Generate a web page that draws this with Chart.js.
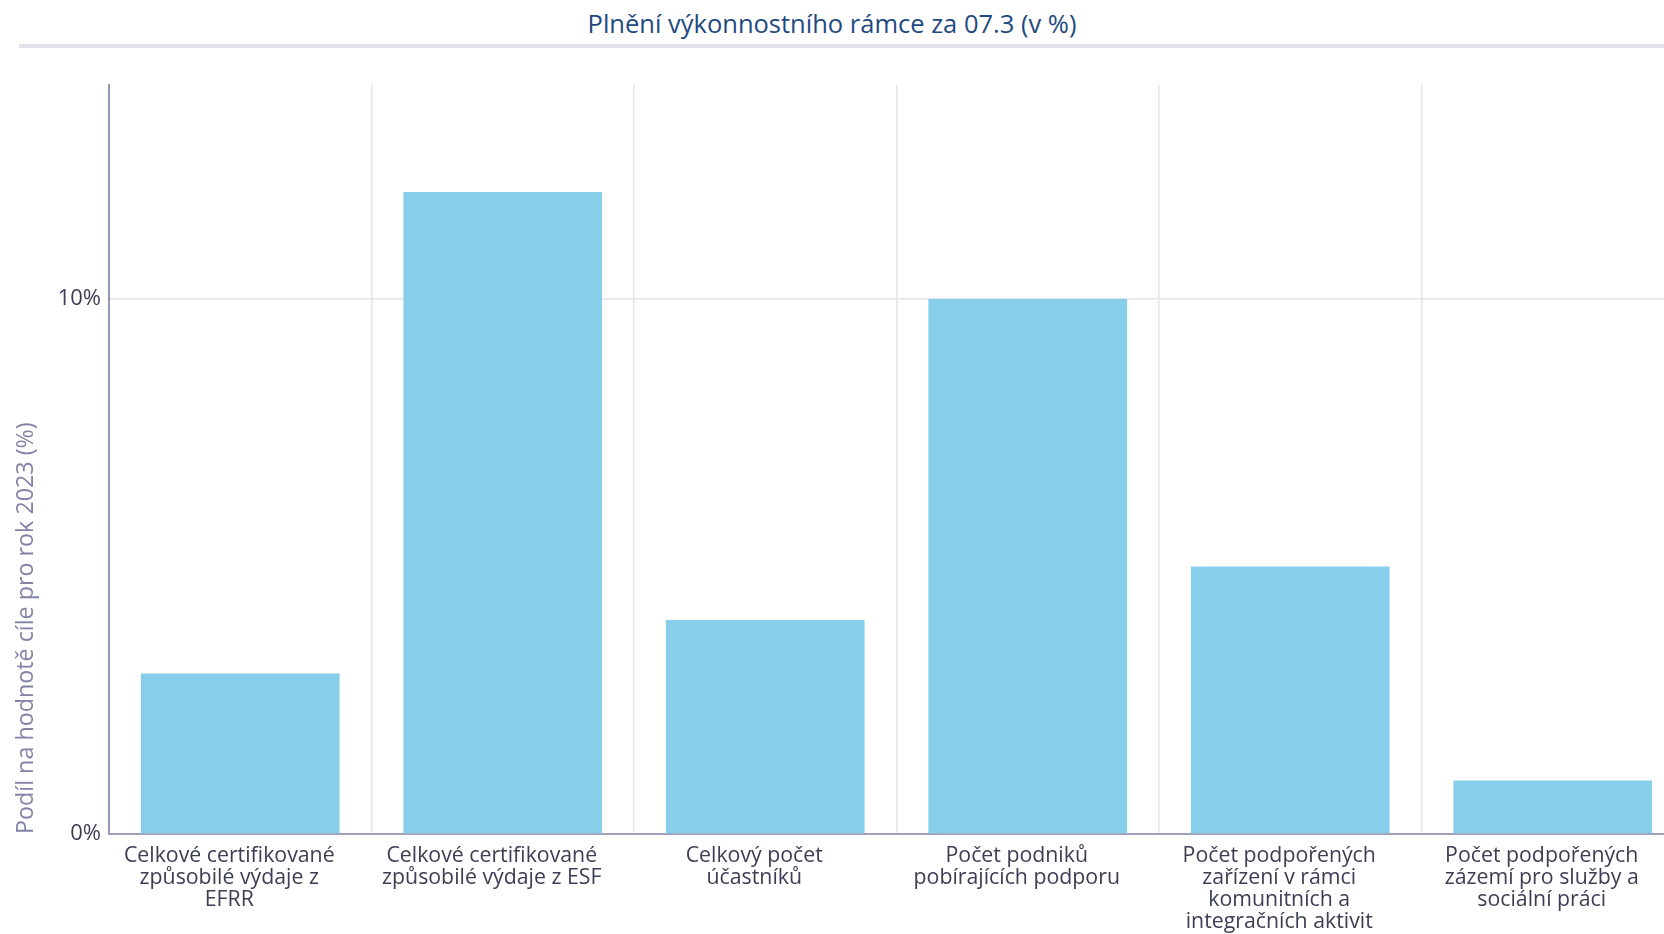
<!DOCTYPE html>
<html>
<head>
<meta charset="utf-8">
<script src="https://cdn.jsdelivr.net/npm/chart.js@4/dist/chart.umd.min.js"></script>
<style>
  html, body { margin: 0; padding: 0; background: #fff; overflow: hidden; width: 1664px; height: 934px; }
  #title { position: absolute; left: 0; top: 8px; width: 1664px; text-align: center; font-family: "Open Sans", sans-serif; font-size: 25.5px; color: #1f4a80; line-height: 30px; }
  #sep { position: absolute; left: 19px; top: 44px; width: 1645px; height: 4px; background: #e3e3eb; }
  #c { position: absolute; left: 0; top: 0; }
</style>
</head>
<body>
<div id="title">Plnění výkonnostního rámce za 07.3 (v %)</div>
<div id="sep"></div>
<canvas id="c" width="1684" height="934" style="width:1684px;height:934px"></canvas>
<script>
const categories = [
  ["Celkové certifikované", "způsobilé výdaje z", "EFRR"],
  ["Celkové certifikované", "způsobilé výdaje z ESF"],
  ["Celkový počet", "účastníků"],
  ["Počet podniků", "pobírajících podporu"],
  ["Počet podpořených", "zařízení v rámci", "komunitních a", "integračních aktivit"],
  ["Počet podpořených", "zázemí pro služby a", "sociální práci"]
];
const values = [3.0, 12.0, 4.0, 10.0, 5.0, 1.0];
const yTicks = [0, 10];
const yMax = 14;
const yTitle = "Podíl na hodnotě cíle pro rok 2023 (%)";

const FONT = "'Open Sans', sans-serif";
new Chart(document.getElementById('c'), {
  type: 'bar',
  data: {
    labels: categories,
    datasets: [{
      data: values,
      backgroundColor: '#87ceeb',
      borderWidth: 0,
      categoryPercentage: 1.0,
      barPercentage: 0.757
    }]
  },
  options: {
    responsive: false,
    animation: false,
    layout: { padding: { top: 85, right: 0, bottom: 0, left: 0 } },
    plugins: { legend: { display: false }, title: { display: false }, tooltip: { enabled: false } },
    scales: {
      x: {
        grid: { color: '#e4e4ea', lineWidth: 1.5, drawTicks: false, offset: true },
        border: { color: '#a0a0bc', width: 2 },
        ticks: { font: { family: FONT, size: 21.3, lineHeight: 1.035 }, color: '#3d3d55', padding: 11, maxRotation: 0, autoSkip: false, labelOffset: -11 },
        afterFit: s => { s.height = 100; }
      },
      y: {
        min: 0, max: yMax,
        grid: { color: ctx => ctx.tick && ctx.tick.value === 0 ? 'rgba(0,0,0,0)' : '#e4e4ea', lineWidth: 1.5, drawTicks: false },
        border: { color: '#9494b6', width: 2 },
        afterBuildTicks: s => { s.ticks = yTicks.map(v => ({ value: v })); },
        ticks: { font: { family: FONT, size: 22 }, color: '#3d3d55', padding: 8, callback: v => v + '%' },
        title: { display: true, text: yTitle, align: 'start', font: { family: FONT, size: 23.3 }, color: '#8383a8', padding: { top: 12, bottom: 0 } },
        afterFit: s => { s.width = 109; }
      }
    }
  }
});
</script>
</body>
</html>
